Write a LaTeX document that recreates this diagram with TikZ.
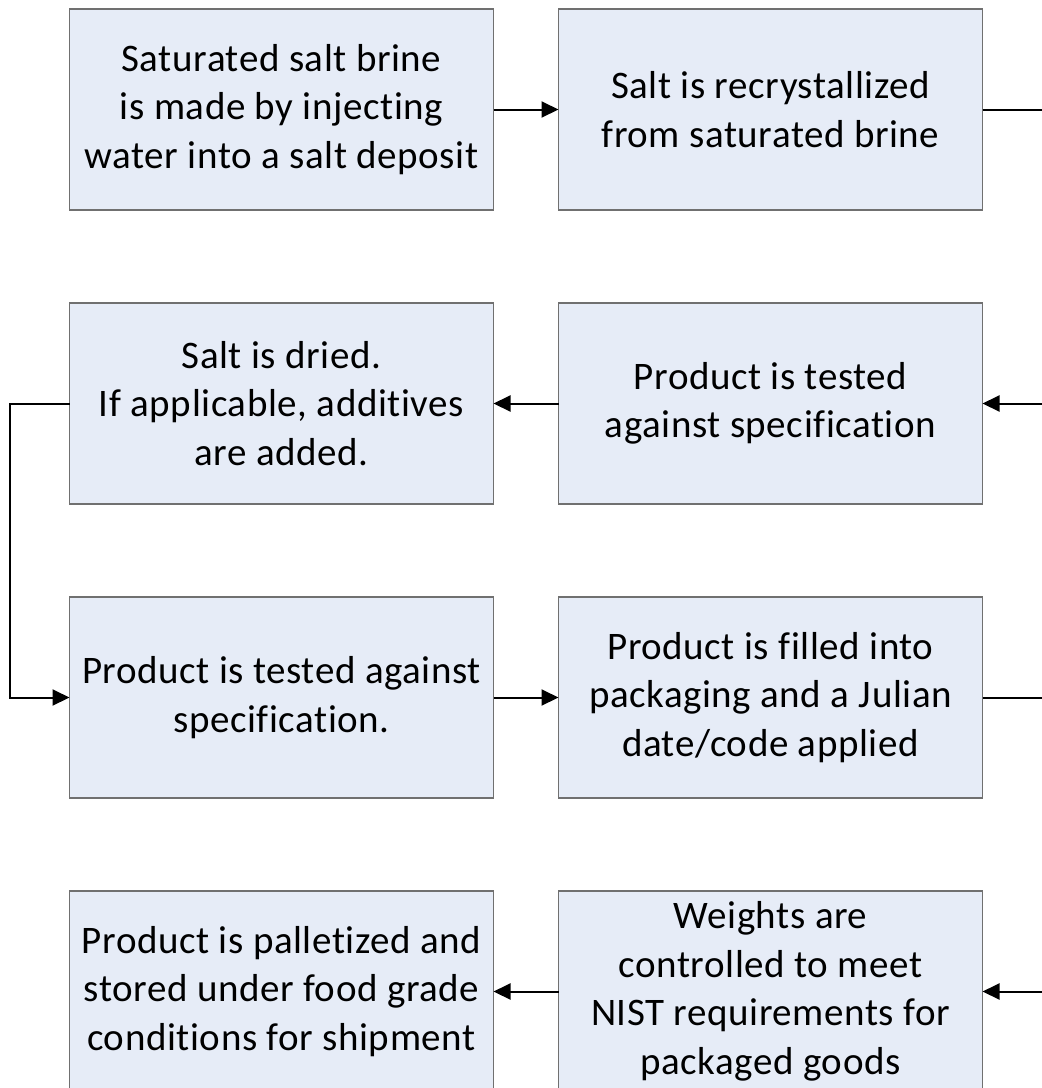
\documentclass[tikz,border=0pt]{standalone}
\usepackage{fontspec}
\setmainfont[Ligatures=NoCommon,LetterSpace=1.5]{Carlito}
\usetikzlibrary{positioning,arrows.meta}
\definecolor{boxfill}{RGB}{230,236,247}
\definecolor{boxline}{RGB}{112,112,112}
\tikzset{
% Two styles for the process chart: step boxes and the lines between them
process node/.style={draw=boxline,fill=boxfill,line width=1.5pt,outer sep=0pt,
  minimum width=424pt,minimum height=201pt,inner sep=0pt,align=center,
  font=\fontsize{39}{48.5}\selectfont},
flow line/.style={draw,line width=2pt,-{Triangle[length=17pt,width=16pt]}}
}

\begin{document}
\begin{tikzpicture}[x=1pt,y=-1pt,node distance=93pt and 65pt]
  \useasboundingbox (0,0) rectangle (1042,1088);
  \clip (0,0) rectangle (1042,1088);
  % Row 1
  \node(1)[process node] at (281.5,109.5) {Saturated salt brine\\is made by injecting\\water into a salt deposit};
  \node(2)[process node,right=of 1] {Salt is recrystallized\\from saturated brine};
  % Row 2
  \node(4)[process node,below=of 2] {Product is tested\\against specification};
  \node(3)[process node,left=of 4] {Salt is dried.\\If applicable, additives\\are added.};
  % Row 3
  \node(5)[process node,below=of 3] {Product is tested against\\specification.};
  \node(6)[process node,right=of 5] {Product is filled into\\packaging and a Julian\\date/code applied};
  % Row 4
  \node(8)[process node,below=of 6] {Weights are\\controlled to meet\\NIST requirements for\\packaged goods};
  \node(7)[process node,left=of 8] {Product is palletized and\\stored under food grade\\conditions for shipment};
  % Connectors (the right-hand returns run off the page)
  \draw[flow line] (1) -- (2);
  \draw[flow line] (2.east) -- ++(90,0) |- (4.east);
  \draw[flow line] (4) -- (3);
  \draw[flow line] (3.west) -- ++(-60,0) |- (5.west);
  \draw[flow line] (5) -- (6);
  \draw[flow line] (6.east) -- ++(90,0) |- (8.east);
  \draw[flow line] (8) -- (7);
\end{tikzpicture}
\end{document}
